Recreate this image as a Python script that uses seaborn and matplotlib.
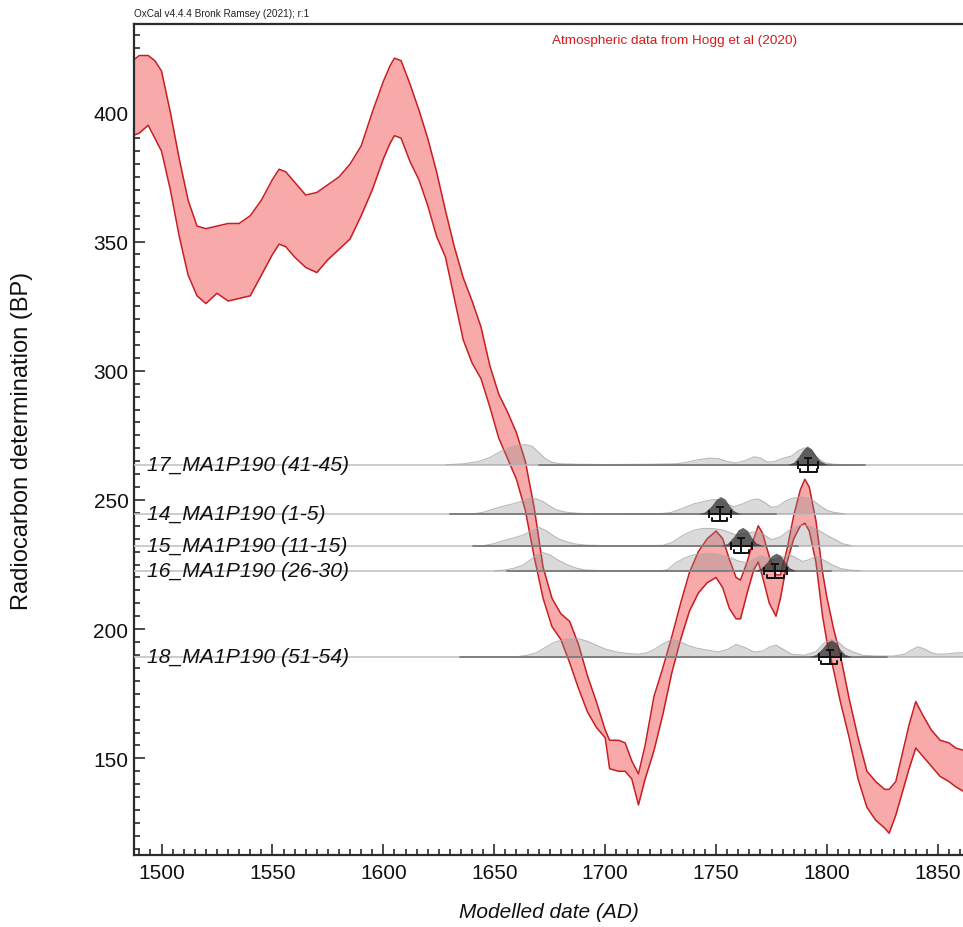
import matplotlib
matplotlib.use("Agg")
import matplotlib.pyplot as plt
import pandas as pd
import seaborn as sns

# calibration curve band (Hogg et al 2020)
cal_year = [1487, 1490, 1494, 1497, 1500, 1504, 1508, 1512, 1516, 1520, 1525, 1530,
            1535, 1540, 1545, 1550, 1553, 1556, 1560, 1565, 1570, 1575, 1580, 1585,
            1590, 1595, 1600, 1603, 1605, 1608, 1612, 1616, 1620, 1624, 1628, 1632, 1636,
            1640, 1644, 1648, 1652, 1656, 1660, 1664, 1668, 1672, 1676, 1680, 1684,
            1688, 1692, 1696, 1700, 1702, 1706, 1709, 1712, 1715, 1718, 1722, 1726,
            1730, 1734, 1738, 1742, 1746, 1750, 1753, 1756, 1759, 1761, 1764, 1767,
            1769, 1771, 1774, 1777, 1779, 1782, 1785, 1788, 1790, 1792, 1795, 1798,
            1800, 1803, 1806, 1810, 1814, 1818, 1822, 1826, 1828, 1831, 1834, 1837,
            1840, 1843, 1847, 1851, 1855, 1858, 1862]
cal_upper = [420, 422, 422, 420, 416, 400, 382, 366, 356, 355, 356, 357,
             357, 360, 366, 374, 378, 377, 373, 368, 369, 372, 375, 380,
             387, 400, 412, 418, 421, 420, 411, 401, 390, 377, 362, 348, 336,
             327, 317, 302, 291, 284, 276, 265, 247, 224, 212, 206, 203,
             194, 182, 172, 161, 157, 157, 156, 149, 144, 155, 174, 185,
             197, 210, 222, 230, 235, 238, 235, 227, 220, 219, 226, 235,
             240, 237, 228, 221, 221, 231, 244, 254, 258, 255, 242, 222,
             212, 200, 190, 173, 158, 145, 141, 138, 138, 141, 152, 163,
             172, 167, 161, 157, 156, 154, 153]
cal_lower = [391, 392, 395, 390, 385, 370, 352, 337, 329, 326, 330, 327,
             328, 329, 337, 345, 349, 348, 344, 340, 338, 343, 347, 351,
             360, 370, 382, 388, 391, 390, 381, 374, 364, 352, 344, 328, 312,
             303, 297, 286, 274, 266, 258, 246, 228, 212, 201, 196, 187,
             177, 168, 162, 158, 146, 145, 145, 142, 132, 142, 153, 167,
             183, 196, 207, 214, 218, 220, 216, 208, 204, 204, 214, 223,
             226, 220, 210, 205, 212, 226, 235, 240, 241, 238, 226, 205,
             195, 184, 172, 158, 142, 131, 126, 123, 121, 128, 137, 146,
             154, 151, 147, 143, 141, 139, 137]

# samples: name, radiocarbon age (BP) and dates
sample_names = ["17_MA1P190 (41-45)", "14_MA1P190 (1-5)", "15_MA1P190 (11-15)",
                "16_MA1P190 (26-30)", "18_MA1P190 (51-54)"]
sample_age = [263.6, 244.6, 232.3, 222.6, 189.3]
range_start = [1670, 1630, 1640.5, 1655.6, 1634.5]
range_end = [1817, 1777, 1787, 1802, 1827]
post_mean = [1791.5, 1751.7, 1761.4, 1776.7, 1801.2]
post_sd = [4.5, 5.0, 4.7, 5.1, 4.9]
bracket_lo = [1788.0, 1748.3, 1758.0, 1773.0, 1797.5]
bracket_hi = [1795.3, 1754.8, 1765.0, 1780.5, 1804.3]

# unmodelled (light) distributions, heights in BP units above the line
like17_year = [1628, 1636, 1643, 1648, 1652, 1656, 1660, 1664, 1667, 1670, 1673, 1676,
               1680, 1688, 1700, 1720, 1732, 1737, 1742, 1747, 1751, 1755, 1759, 1763,
               1767, 1770, 1773, 1776, 1780, 1784, 1787, 1790, 1793, 1796, 1799, 1803, 1810]
like17 = [0, 0.4, 1.3, 2.8, 4.8, 6.4, 7.4, 7.8, 7.2, 4.8, 2.4, 1.0,
          0.4, 0.2, 0.1, 0.2, 0.4, 1.0, 2.0, 2.6, 2.4, 1.3, 0.7, 1.6,
          3.1, 2.6, 1.1, 1.2, 2.5, 3.4, 5.4, 6.6, 5.4, 2.4, 0.8, 0.2, 0]
like14_year = [1640, 1645, 1650, 1654, 1658, 1662, 1666, 1669, 1672, 1675, 1678, 1682,
               1688, 1700, 1725, 1730, 1735, 1740, 1745, 1749, 1752, 1755, 1758, 1762,
               1766, 1769, 1772, 1775, 1778, 1781, 1784, 1788, 1791, 1794, 1797, 1800,
               1803, 1808]
like14 = [0, 0.6, 2.0, 3.0, 3.8, 4.8, 6.1, 5.8, 4.8, 3.0, 1.6, 0.7,
          0.2, 0, 0.1, 0.6, 2.2, 3.9, 4.9, 5.6, 5.2, 3.8, 2.8, 3.9,
          5.4, 5.8, 4.4, 2.5, 3.0, 4.8, 6.0, 6.5, 6.2, 5.0, 3.0, 1.4,
          0.6, 0]
like15_year = [1645, 1650, 1655, 1660, 1663, 1667, 1670, 1673, 1676, 1679, 1683, 1687,
               1692, 1700, 1726, 1730, 1735, 1740, 1744, 1749, 1753, 1757, 1759, 1762,
               1766, 1769, 1772, 1775, 1779, 1783, 1786, 1789, 1792, 1796, 1800, 1804,
               1807, 1811]
like15 = [0, 0.8, 2.2, 3.3, 4.1, 5.8, 7.1, 6.0, 4.2, 2.6, 1.4, 0.6,
          0.2, 0, 0.1, 1.2, 4.0, 6.0, 6.7, 6.6, 6.1, 4.8, 4.1, 4.6,
          5.2, 5.4, 4.0, 2.3, 3.4, 6.0, 7.4, 8.0, 7.6, 6.1, 4.0, 2.2,
          0.8, 0]
like16_year = [1650, 1655, 1659, 1663, 1666, 1669, 1672, 1675, 1679, 1683, 1687, 1691,
               1700, 1725, 1728, 1732, 1736, 1740, 1745, 1749, 1753, 1757, 1760, 1764,
               1767, 1770, 1773, 1776, 1779, 1783, 1786, 1789, 1792, 1795, 1798, 1802,
               1806, 1810, 1815]
like16 = [0, 0.3, 1.0, 2.2, 4.0, 6.1, 7.0, 6.2, 4.0, 2.3, 1.0, 0.3,
          0, 0, 0.4, 3.2, 5.0, 6.2, 6.6, 6.6, 5.9, 4.9, 3.8, 3.0,
          4.6, 5.8, 5.0, 4.2, 5.0, 6.2, 5.0, 3.6, 4.3, 5.6, 4.4, 2.4,
          0.9, 0.3, 0]
like18_year = [1660, 1665, 1669, 1673, 1677, 1681, 1685, 1688, 1692, 1696, 1700, 1705,
               1710, 1715, 1719, 1722, 1726, 1730, 1733, 1737, 1741, 1746, 1751, 1755,
               1759, 1763, 1767, 1771, 1774, 1777, 1780, 1784, 1790, 1795, 1799, 1802,
               1805, 1808, 1812, 1816, 1822, 1830, 1835, 1838, 1841, 1844, 1847, 1850,
               1854, 1858, 1862]
like18 = [0, 0.6, 1.6, 3.6, 5.6, 6.6, 7.0, 7.0, 6.0, 4.5, 3.0, 1.9,
          1.3, 1.0, 1.6, 2.8, 5.0, 6.7, 6.2, 4.5, 3.4, 2.6, 1.9, 2.8,
          4.8, 3.6, 1.9, 2.2, 3.8, 4.5, 3.0, 1.0, 0.6, 2.0, 5.6, 6.7,
          5.8, 3.4, 1.8, 0.6, 0.3, 0.3, 1.0, 2.6, 3.9, 3.0, 1.6, 1.0,
          1.1, 1.5, 1.6]

# modelled (dark) distributions
post17_year = [1782, 1785, 1787, 1789, 1791, 1793, 1795, 1797, 1800, 1802]
post17 = [0, 1.0, 3.0, 5.6, 7.3, 6.2, 3.6, 1.4, 0.2, 0]
post14_year = [1742, 1745, 1748, 1750, 1752, 1754, 1756, 1758, 1761]
post14 = [0, 0.8, 3.2, 5.6, 6.7, 5.8, 3.2, 1.2, 0]
post15_year = [1752, 1755, 1758, 1760, 1762, 1764, 1766, 1768, 1771]
post15 = [0, 0.8, 3.6, 6.2, 7.1, 6.0, 3.2, 1.1, 0]
post16_year = [1767, 1770, 1773, 1775, 1777, 1779, 1781, 1783, 1786]
post16 = [0, 0.8, 3.4, 5.8, 6.8, 6.0, 3.4, 1.2, 0]
post18_year = [1792, 1795, 1798, 1800, 1802, 1804, 1806, 1808, 1811]
post18 = [0, 0.9, 3.4, 5.6, 6.5, 5.4, 2.8, 1.0, 0]

like_years = [like17_year, like14_year, like15_year, like16_year, like18_year]
like_vals = [like17, like14, like15, like16, like18]
post_years = [post17_year, post14_year, post15_year, post16_year, post18_year]
post_vals = [post17, post14, post15, post16, post18]

sns.set_theme(style="ticks")
plt.rcParams["font.family"] = ["Liberation Sans", "DejaVu Sans"]

fig = plt.figure(figsize=(9.63, 9.28), dpi=100)
ax = fig.add_axes([134 / 963, 72 / 928, 829 / 963, 831 / 928])

curve = pd.DataFrame({"year": cal_year, "upper": cal_upper, "lower": cal_lower})
ax.fill_between(curve["year"], curve["lower"], curve["upper"], color="#f8aaaa", lw=0, zorder=1)
sns.lineplot(data=curve, x="year", y="upper", color="#c81e23", lw=1.1, ax=ax, zorder=2)
sns.lineplot(data=curve, x="year", y="lower", color="#c81e23", lw=1.1, ax=ax, zorder=2)

for i, name in enumerate(sample_names):
    y0 = sample_age[i]
    ax.axhline(y0, color="#c4c4c4", lw=1.2, zorder=3)
    ax.plot([range_start[i], range_end[i]], [y0, y0], color="#7a7a7a", lw=1.3, zorder=4)
    ly = pd.Series(like_vals[i]) + y0
    ax.fill_between(like_years[i], y0, ly, color="#8c8c8c", alpha=0.32, lw=0, zorder=3)
    ax.plot(like_years[i], ly, color="#a8a8a8", lw=0.8, alpha=0.8, zorder=3)
    py = pd.Series(post_vals[i]) + y0
    ax.fill_between(post_years[i], y0, py, color="#333333", alpha=0.75, lw=0, zorder=5)
    ax.errorbar(post_mean[i], y0, xerr=post_sd[i], yerr=2.8, color="#111111",
                lw=1.4, capsize=3, capthick=1.4, zorder=6)
    yb = y0 - 2.8
    ax.plot([bracket_lo[i], bracket_lo[i], bracket_hi[i], bracket_hi[i]],
            [yb + 1.3, yb, yb, yb + 1.3], color="#111111", lw=1.4, zorder=6)
    ax.text(0.016, y0, name, transform=ax.get_yaxis_transform(), fontsize=15.2,
            style="italic", color="#111111", ha="left", va="center", zorder=7)

ax.set_xlim(1487.6, 1861.3)
ax.set_ylim(112.6, 434.2)
ax.set_xticks(range(1500, 1851, 50))
ax.set_xticks(range(1490, 1861, 5), minor=True)
ax.set_yticks(range(150, 401, 50))
ax.set_yticks(range(115, 434, 5), minor=True)
ax.tick_params(which="both", direction="in", color="#2b2b2b", width=1.2,
               labelsize=15, labelcolor="#111111")
ax.tick_params(which="major", length=8)
ax.tick_params(which="minor", length=4.3)
ax.tick_params(axis="x", pad=6)
ax.tick_params(axis="y", pad=4)
for side in ["left", "bottom", "top"]:
    ax.spines[side].set_color("#2b2b2b")
    ax.spines[side].set_linewidth(1.6)
ax.spines["right"].set_visible(False)
ax.grid(False)

ax.set_xlabel("Modelled date (AD)", fontsize=15, style="italic", color="#111111")
ax.xaxis.set_label_coords(0.5, -0.056)
ax.set_ylabel("Radiocarbon determination (BP)", fontsize=17, color="#111111")
ax.yaxis.set_label_coords(-0.122, 0.5)

fig.text(134 / 963, 1 - 14 / 928, "OxCal v4.4.4 Bronk Ramsey (2021); r:1",
         fontsize=7.2, color="#222222", ha="left", va="center")
fig.text(675 / 963, 1 - 41 / 928, "Atmospheric data from Hogg et al (2020)",
         fontsize=9.7, color="#d7191c", ha="center", va="center")

fig.savefig("out.png", dpi=100)
